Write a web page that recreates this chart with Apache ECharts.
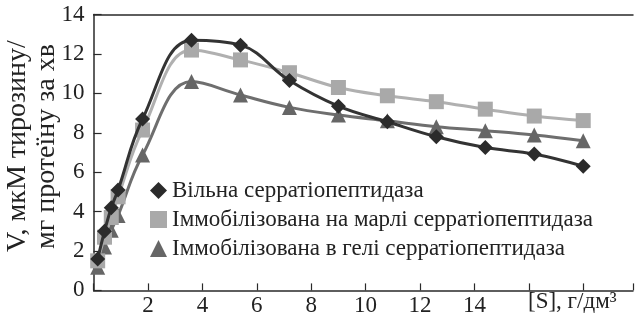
<!DOCTYPE html>
<html>
<head>
<meta charset="utf-8">
<script src="https://cdn.jsdelivr.net/npm/echarts@6/dist/echarts.min.js"></script>
<style>
  html, body { margin: 0; padding: 0; background: #fff; }
  #chart { width: 636px; height: 322px; }
</style>
</head>
<body>
<div id="chart"></div>
<script>
// Substrate concentration, g/dm3
const substrate = [0.15, 0.4, 0.65, 0.9, 1.8, 3.6, 5.4, 7.2, 9, 10.8, 12.6, 14.4, 16.2, 18];

// Reaction rate, µM tyrosine / mg protein per min
const freeEnzyme   = [1.6, 3.0, 4.2, 5.1, 8.7, 12.7, 12.45, 10.65, 9.35, 8.56, 7.8, 7.25, 6.92, 6.3];
const onGauze      = [1.5, 2.7, 3.7, 4.75, 8.14, 12.2, 11.7, 11.05, 10.3, 9.88, 9.58, 9.2, 8.85, 8.62];
const inGel        = [1.17, 2.2, 3.05, 3.8, 6.87, 10.6, 9.92, 9.29, 8.9, 8.61, 8.31, 8.11, 7.89, 7.6];

const seriesNames = [
  'Вільна серратіопептидаза',
  'Іммобілізована на марлі серратіопептидаза',
  'Іммобілізована в гелі серратіопептидаза'
];

const yTicks = [0, 2, 4, 6, 8, 10, 12, 14];
const xLabelled = [2, 4, 6, 8, 10, 12, 14];

const serif = 'Liberation Serif';
const pairs = vals => substrate.map((x, i) => [x, vals[i]]);

const chart = echarts.init(document.getElementById('chart'), null, { renderer: 'canvas' });

chart.setOption({
  animation: false,
  backgroundColor: '#fff',
  grid: { left: 93.6, right: 0, top: 14.6, bottom: 31.6, containLabel: false },
  xAxis: [{
    type: 'value',
    min: 0,
    max: 19.83,
    interval: 2,
    axisLine: { show: true, lineStyle: { color: '#2a2a2a', width: 1.5 } },
    axisTick: { show: true, inside: true, length: 7, lineStyle: { color: '#2a2a2a', width: 1.2 } },
    axisLabel: {
      color: '#222', fontFamily: serif, fontSize: 23, margin: 4,
      formatter: v => (xLabelled.indexOf(v) >= 0 ? String(v) : '')
    },
    splitLine: { show: false }
  }, {
    type: 'value',
    position: 'top',
    min: 0,
    max: 19.83,
    axisLine: { show: true, lineStyle: { color: '#2a2a2a', width: 1.5 } },
    axisTick: { show: false },
    axisLabel: { show: false },
    splitLine: { show: false }
  }],
  yAxis: {
    type: 'value',
    min: yTicks[0],
    max: yTicks[yTicks.length - 1],
    interval: 2,
    axisLine: { show: true, lineStyle: { color: '#2a2a2a', width: 1.5 } },
    axisTick: { show: true, inside: true, length: 8, lineStyle: { color: '#2a2a2a', width: 1.2 } },
    axisLabel: { color: '#222', fontFamily: serif, fontSize: 23, margin: 9 },
    splitLine: { show: false }
  },
  legend: {
    orient: 'vertical',
    left: 145,
    top: 174,
    itemWidth: 17,
    itemHeight: 17,
    itemGap: 6,
    textStyle: { color: '#222', fontFamily: serif, fontSize: 23 },
    data: [
      { name: seriesNames[0], icon: 'diamond' },
      { name: seriesNames[1], icon: 'rect' },
      { name: seriesNames[2], icon: 'triangle' }
    ]
  },
  series: [{
    name: seriesNames[2],
    type: 'line',
    smooth: 0.4,
    data: pairs(inGel),
    symbol: 'triangle',
    symbolSize: 15,
    itemStyle: { color: '#666666' },
    lineStyle: { color: '#6e6e6e', width: 3 },
    z: 2
  }, {
    name: seriesNames[1],
    type: 'line',
    smooth: 0.4,
    data: pairs(onGauze),
    symbol: 'rect',
    symbolSize: 15,
    itemStyle: { color: '#a9a9a9' },
    lineStyle: { color: '#b0b0b0', width: 3 },
    z: 3
  }, {
    name: seriesNames[0],
    type: 'line',
    smooth: 0.4,
    data: pairs(freeEnzyme),
    symbol: 'diamond',
    symbolSize: 15,
    itemStyle: { color: '#2b2b2b' },
    lineStyle: { color: '#333333', width: 3 },
    z: 4
  }],
  graphic: [{
    type: 'text',
    x: 18, y: 252,
    rotation: Math.PI / 2,
    style: { text: 'V, мкМ тирозину/', fontFamily: serif, fontSize: 28, fill: '#222', align: 'left', verticalAlign: 'middle' }
  }, {
    type: 'text',
    x: 47, y: 249,
    rotation: Math.PI / 2,
    style: { text: 'мг протеїну за хв', fontFamily: serif, fontSize: 28, fill: '#222', align: 'left', verticalAlign: 'middle' }
  }, {
    type: 'text',
    x: 528, y: 302,
    style: { text: '[S], г/дм³', fontFamily: serif, fontSize: 23, fill: '#222', align: 'left', verticalAlign: 'middle' }
  }]
});
</script>
</body>
</html>
